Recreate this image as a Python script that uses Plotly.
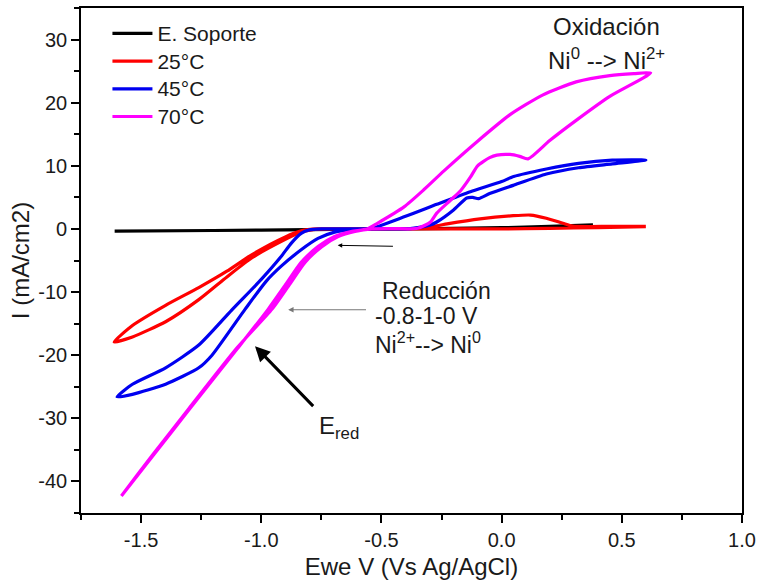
import plotly.graph_objects as go

# Cyclic voltammograms of Ni deposition at several bath temperatures
# Potential (V vs Ag/AgCl) and current density (mA/cm2)

v_soporte = [-1.61, -1.2, -0.8, -0.4, 0.0, 0.2, 0.38]
i_soporte = [-0.35, -0.25, -0.1, 0.0, 0.2, 0.4, 0.65]

v_25 = [0.6, 0.4, 0.2, 0.0, -0.3, -0.6, -0.764, -0.834, -0.902, -1.04, -1.143, -1.26,
        -1.398, -1.536, -1.612, -1.536, -1.398, -1.26, -1.143, -1.04, -0.902, -0.834,
        -0.764, -0.5, -0.35, -0.27, -0.227, -0.09, 0.048, 0.12, 0.186, 0.255, 0.296,
        0.45, 0.6]
i_25 = [0.35, 0.2, 0.1, 0.0, 0.0, 0.0, -0.05, -0.5, -1.7, -4.6, -7.6, -11.2,
        -14.7, -17.1, -17.9, -15.3, -12.1, -9.3, -6.7, -4.1, -1.3, -0.3,
        0.0, 0.0, 0.1, 0.5, 0.8, 1.6, 2.1, 2.2, 1.7, 0.9, 0.45,
        0.4, 0.4]

v_45 = [0.6, 0.46, 0.32, 0.186, 0.05, 0.0, -0.13, -0.27, -0.4, -0.55, -0.626, -0.695,
        -0.764, -0.834, -0.917, -0.98, -1.067, -1.205, -1.26, -1.398, -1.536, -1.6,
        -1.536, -1.398, -1.26, -1.124, -1.0, -0.92, -0.874, -0.834, -0.8, -0.75, -0.6,
        -0.45, -0.38, -0.3, -0.27, -0.2, -0.145, -0.12, -0.096, -0.05, 0.048, 0.186,
        0.32, 0.46, 0.6]
i_45 = [10.9, 10.9, 10.4, 9.5, 8.3, 7.5, 5.9, 3.9, 2.0, 0.0, -0.1, -0.5,
        -1.5, -3.3, -5.9, -8.3, -12.7, -20.0, -22.0, -24.6, -26.2, -26.6,
        -24.6, -22.0, -18.4, -12.9, -8.0, -4.5, -2.2, -0.7, -0.15, 0.0, 0.0,
        0.0, 0.05, 0.6, 1.1, 3.0, 4.9, 5.0, 4.8, 5.6, 6.9, 8.7,
        9.7, 10.3, 10.9]

v_70 = [0.62, 0.55, 0.45, 0.31, 0.17, 0.035, -0.10, -0.24, -0.324, -0.406, -0.517,
        -0.56, -0.626, -0.695, -0.764, -0.834, -0.902, -0.971, -1.10, -1.30, -1.45,
        -1.582, -1.45, -1.30, -1.10, -0.955, -0.886, -0.818, -0.748, -0.68, -0.61,
        -0.54, -0.45, -0.35, -0.296, -0.27, -0.214, -0.17, -0.13, -0.10, -0.05, -0.02,
        0.035, 0.075, 0.11, 0.20, 0.31, 0.45, 0.62]
i_70 = [24.7, 24.6, 24.3, 23.3, 21.2, 18.1, 13.9, 9.2, 6.2, 3.5, 0.9,
        0.0, -0.4, -1.2, -2.8, -5.3, -9.0, -12.7, -19.0, -28.6, -35.9,
        -42.3, -35.7, -28.4, -18.8, -12.7, -9.0, -5.3, -2.8, -1.2, -0.4,
        0.0, 0.05, 0.1, 1.1, 2.5, 4.5, 6.1, 8.2, 10.0, 11.3, 11.7,
        11.8, 11.5, 11.1, 14.0, 17.2, 21.0, 24.7]

series = [
    ("E. Soporte", v_soporte, i_soporte, "#000000"),
    ("25°C", v_25, i_25, "#ff0000"),
    ("45°C", v_45, i_45, "#0000f0"),
    ("70°C", v_70, i_70, "#ff00ff"),
]

x_ticks = [-1.5, -1.0, -0.5, 0.0, 0.5, 1.0]
x_labels = ["-1.5", "-1.0", "-0.5", "0.0", "0.5", "1.0"]
x_minor = [-1.75, -1.25, -0.75, -0.25, 0.25, 0.75]
y_ticks = [-40, -30, -20, -10, 0, 10, 20, 30]
y_labels = ["-40", "-30", "-20", "-10", "0", "10", "20", "30"]
y_minor = [-45, -35, -25, -15, -5, 5, 15, 25, 35]

FONT = "Arial, Liberation Sans, sans-serif"
INK = "#1a1a1a"

fig = go.Figure()
for name, vx, iy, col in series:
    fig.add_trace(go.Scatter(
        x=vx, y=iy, mode="lines",
        name=f'<span style="font-size:21px">{name}</span>',
        line=dict(color=col, width=3.2, shape="spline", smoothing=0.6),
    ))

axis_common = dict(
    showline=True, linecolor="black", linewidth=1.6, mirror=True,
    showgrid=False, zeroline=False, ticks="outside", ticklen=8, tickwidth=1.5,
    tickcolor="black", tickfont=dict(family=FONT, size=20, color=INK),
)

fig.update_xaxes(
    range=[-1.75, 1.0], tickmode="array", tickvals=x_ticks, ticktext=x_labels,
    minor=dict(tickmode="array", tickvals=x_minor, ticks="outside", ticklen=5,
               tickwidth=1.5, tickcolor="black"),
    title=dict(text="Ewe V (Vs Ag/AgCl)", font=dict(family=FONT, size=24, color=INK),
               standoff=8),
    **axis_common,
)
fig.update_yaxes(
    range=[-45, 35], tickmode="array", tickvals=y_ticks, ticktext=y_labels,
    minor=dict(tickmode="array", tickvals=y_minor, ticks="outside", ticklen=5,
               tickwidth=1.5, tickcolor="black"),
    title=dict(text="I (mA/cm2)", font=dict(family=FONT, size=24, color=INK),
               standoff=2),
    **axis_common,
)

texts = [
    (0.438, 32.0, "Oxidación", "center", 24),
    (0.438, 26.9, "Ni<sup>0</sup> --> Ni<sup>2+</sup>", "center", 24),
    (-0.505, -9.8, "Reducción", "left", 23),
    (-0.535, -13.8, "-0.8-1-0 V", "left", 23),
    (-0.535, -18.1, "Ni<sup>2+</sup>--> Ni<sup>0</sup>", "left", 23),
    (-0.77, -31.5, "E<sub>red</sub>", "left", 24),
]
for tx, ty, txt, anchor, fs in texts:
    fig.add_annotation(x=tx, y=ty, xref="x", yref="y", text=txt, showarrow=False,
                       xanchor=anchor, yanchor="middle",
                       font=dict(family=FONT, size=fs, color=INK))

# pointer arrows
arrows = [
    (-0.682, -2.6, -0.446, -2.75, "#000000", 1.0, 0.9),
    (-0.888, -12.8, -0.558, -12.8, "#777777", 1.2, 0.9),
    (-1.026, -18.6, -0.778, -28.3, "#000000", 3.0, 1.0),
]
for hx, hy, tx, ty, col, w, sz in arrows:
    fig.add_annotation(x=hx, y=hy, ax=tx, ay=ty, xref="x", yref="y", axref="x", ayref="y",
                       text="", showarrow=True, arrowhead=2, arrowsize=sz,
                       arrowwidth=w, arrowcolor=col)

fig.update_layout(
    width=762, height=582,
    margin=dict(l=81, r=15, t=6, b=68),
    plot_bgcolor="white", paper_bgcolor="white",
    showlegend=True,
    legend=dict(x=0.04, y=0.987, xanchor="left", yanchor="top",
                bgcolor="rgba(0,0,0,0)", font=dict(family=FONT, size=19, color=INK),
                tracegroupgap=0, itemwidth=40),
)

fig.write_html("out.html")
